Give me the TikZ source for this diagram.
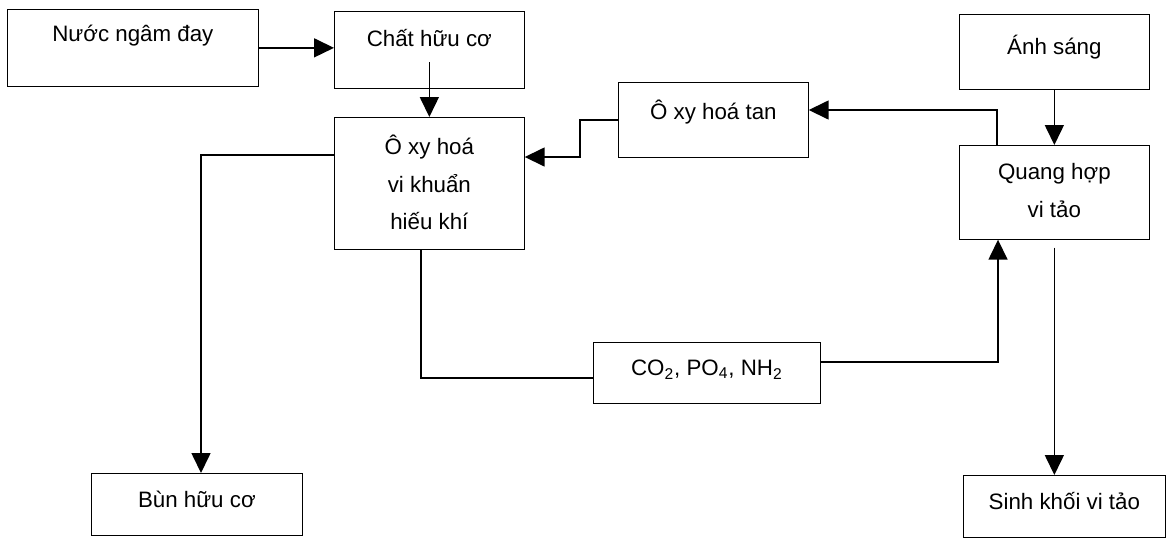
\documentclass[tikz,border=0pt]{standalone}
\usepackage{fontspec}
\setmainfont{Liberation Sans}
\usetikzlibrary{arrows.meta,calc}
\newcommand{\boxlines}[1]{\begin{tabular}[t]{@{}c@{}}#1\end{tabular}}
\tikzset{
    boxsty/.style n args={3}{draw,rectangle,anchor=north west,inner ysep=0pt,
        minimum width=#1,text height=#2,text depth=#3},
    linesty/.style={line width=0.9pt},
    arrsty/.style={linesty,->},
}

\begin{document}
\begin{tikzpicture}[>={Triangle[length=0.40cm,width=0.38cm]},
                    font=\fontsize{12.7pt}{21.5pt}\selectfont]
  \useasboundingbox (0,0) rectangle (23.36,-10.76);

  % boxes
  \node[boxsty={5.02cm}{0.64cm}{0.90cm}] (nuoc)  at (0.14,-0.18) {Nước ngâm đay};
  \node[boxsty={3.80cm}{0.70cm}{0.84cm}] (chat)  at (6.68,-0.22) {Chất hữu cơ};
  \node[boxsty={3.80cm}{0.74cm}{1.90cm}] (oxh)   at (6.68,-2.34) {\boxlines{Ô xy hoá\\vi khuẩn\\hiếu khí}};
  \node[boxsty={3.80cm}{0.74cm}{0.76cm}] (otan)  at (12.36,-1.64) {Ô xy hoá tan};
  \node[boxsty={3.80cm}{0.80cm}{0.70cm}] (anh)   at (19.18,-0.28) {Ánh sáng};
  \node[boxsty={3.80cm}{0.68cm}{1.20cm}] (quang) at (19.18,-2.90) {\boxlines{Quang hợp\\vi tảo}};
  \node[boxsty={4.54cm}{0.66cm}{0.56cm}] (dinh)  at (11.86,-6.84) {CO\textsubscript{2}, PO\textsubscript{4}, NH\textsubscript{2}};
  \node[boxsty={4.22cm}{0.68cm}{0.56cm}] (bun)   at (1.82,-9.46) {Bùn hữu cơ};
  \node[boxsty={4.04cm}{0.68cm}{0.56cm}] (sinh)  at (19.26,-9.50) {Sinh khối vi tảo};

  % bends
  \coordinate (bunj)  at (4.02,-3.10);
  \coordinate (otanj) at (11.60,-3.14);
  \coordinate (quanj) at (19.94,-2.20);
  \coordinate (dinhj) at (8.42,-7.56);
  \coordinate (tinhj) at (19.96,-7.24);

  \draw[arrsty] (nuoc.east) -- (nuoc.east -| chat.west);
  \draw[arrsty] ([yshift=-0.25cm]chat.center) -- (oxh.north);
  \draw[arrsty] (oxh.west |- bunj) -- (bunj) -- (bunj |- bun.north);
  \draw[arrsty] (otan.west) -| (otanj) -- (otanj -| oxh.east);
  \draw[arrsty] (quanj |- quang.north) -- (quanj) -- (quanj -| otan.east);
  \draw[arrsty] (anh.south) -- (quang.north);
  \draw[linesty] (dinhj |- oxh.south) -- (dinhj) -- (dinhj -| dinh.west);
  \draw[arrsty] (dinh.east |- tinhj) -- (tinhj) -- (tinhj |- quang.south);
  \draw[arrsty] ([yshift=-0.16cm]quang.south) -- (quang.south |- sinh.north);
\end{tikzpicture}
\end{document}
